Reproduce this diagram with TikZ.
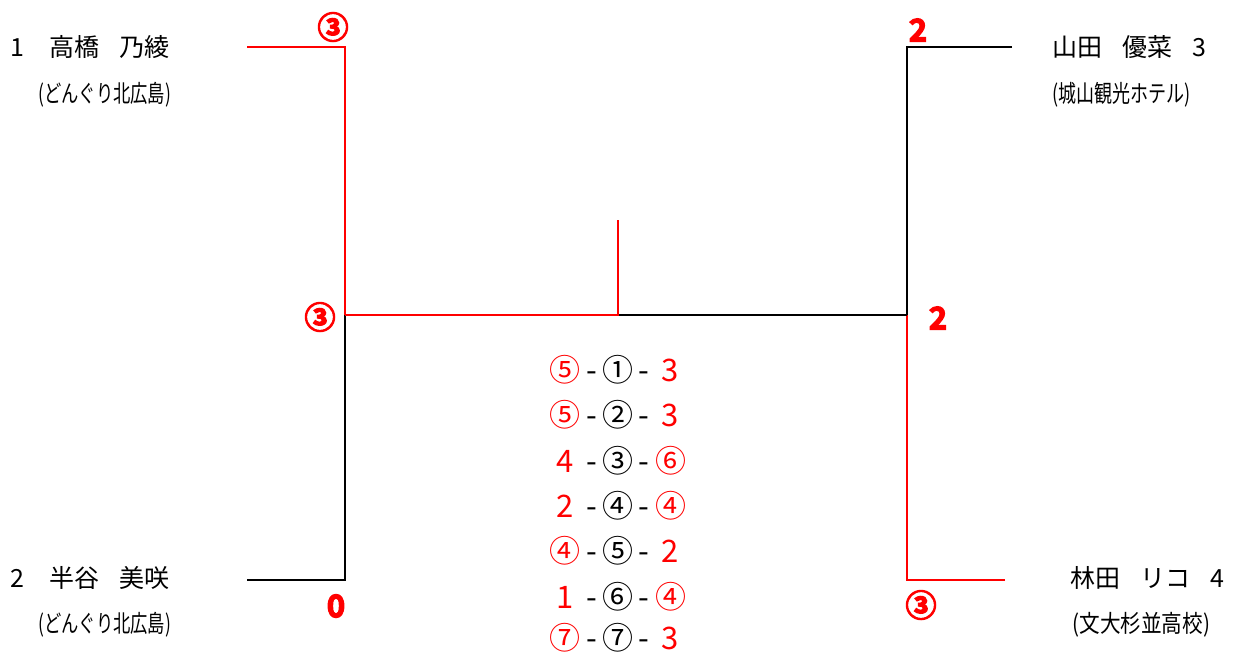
\documentclass[tikz,border=0pt]{standalone}
\usepackage{fontspec}
\setmainfont{Noto Sans CJK JP}
\newfontfamily\jpbold[FakeBold=4]{Noto Sans CJK JP Bold}
\usetikzlibrary{positioning}

% one row of match scores: left / match number / right
\newcommand{\scorerow}[3]{\makebox[0.9em]{\textcolor{red}{#1}} - \makebox[0.9em]{#2} - \makebox[0.9em]{\textcolor{red}{#3}}}
\newcommand{\gap}{\hspace{0.8em}}

\begin{document}
\begin{tikzpicture}[
    x=0.5pt, y=-0.5pt,
    player/.style={anchor=west, inner sep=0pt, font=\fontsize{12.5}{15}\selectfont},
    team/.style={anchor=west, inner sep=0pt, font=\fontsize{12}{14}\selectfont},
    pts/.style={text=red, inner sep=0pt, font=\jpbold\fontsize{15.5}{17}\selectfont},
    row/.style={inner sep=0pt, font=\fontsize{15.5}{17}\selectfont},
    winline/.style={red, line width=1pt},
    loseline/.style={black, line width=1pt}
]
\useasboundingbox (0,0) rectangle (1236,653);

% Players and their teams.
\node[player] (name1) at (10,47) {1\gap\ 高橋\gap 乃綾};
\node[team] (team1) at (38,95) {\scalebox{0.72}[1]{(どんぐり北広島)}};
\node[player] (name2) at (10,578) {2\gap\ 半谷\gap 美咲};
\node[team] (team2) at (38,625) {\scalebox{0.72}[1]{(どんぐり北広島)}};
\node[player] (name3) at (1052,47) {山田\gap 優菜\gap 3};
\node[team] (team3) at (1052,95) {\scalebox{0.75}[1]{(城山観光ホテル)}};
\node[player] (name4) at (1070,578) {林田\gap リコ\gap 4};
\node[team] (team4) at (1072,625) {\scalebox{0.86}[1]{(文大杉並高校)}};

% Bracket points.
\coordinate (p1) at (247,47);
\coordinate (p2) at (247,580);
\coordinate (p3) at (1012,47);
\coordinate (p4) at (1005,580);
\coordinate (semi1) at (345,315);
\coordinate (semi2) at (907,315);
\coordinate (final) at (618,315);
\coordinate (champ) at (618,220);

% Bracket lines.
\draw[loseline] (p2) -| (semi1);
\draw[winline] (p1) -| (semi1);
\draw[loseline] (p3) -| (semi2);
\draw[winline] (p4) -| (semi2);
\draw[loseline] (final) -- (semi2);
\draw[winline] (semi1) -- (final) -- (champ);

% Points per round.
\node[pts] (s1) at (333,27) {③};
\node[pts] (s2) at (336,606) {0};
\node[pts] (s3) at (918,30) {2};
\node[pts] (s4) at (921,605) {③};
\node[pts] (f1) at (320,317) {③};
\node[pts] (f2) at (938,318) {2};

% Final match details.
\node[row] (r1) at (618,370) {\scorerow{⑤}{①}{3}};
\node[row] (r2) at (618,415) {\scorerow{⑤}{②}{3}};
\node[row] (r3) at (618,461) {\scorerow{4}{③}{⑥}};
\node[row] (r4) at (618,506) {\scorerow{2}{④}{④}};
\node[row] (r5) at (618,551) {\scorerow{④}{⑤}{2}};
\node[row] (r6) at (618,597) {\scorerow{1}{⑥}{④}};
\node[row] (r7) at (618,638) {\scorerow{⑦}{⑦}{3}};

\end{tikzpicture}
\end{document}
